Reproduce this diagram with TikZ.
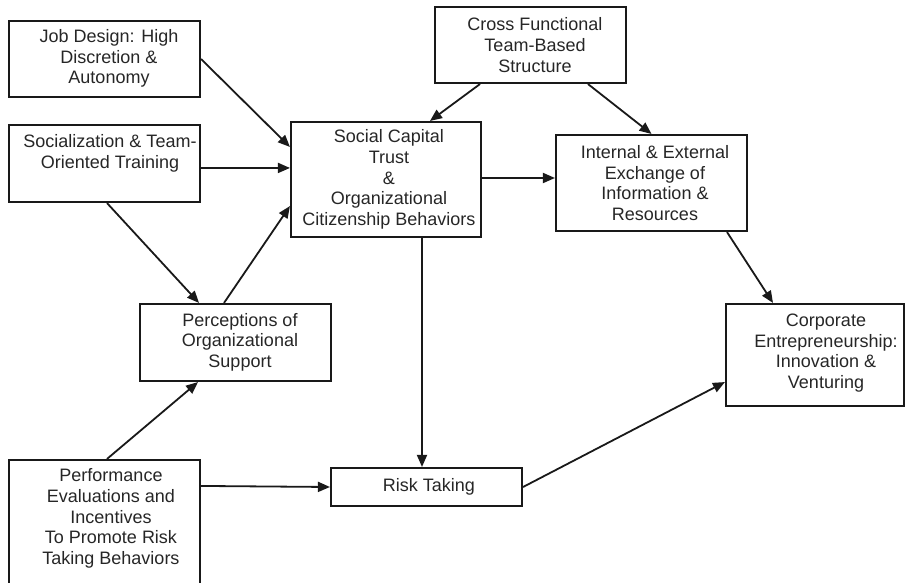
\documentclass[tikz,border=0pt]{standalone}
\usepackage{fontspec}
\setmainfont{Liberation Sans}
\usetikzlibrary{arrows.meta}
\begin{document}
\begin{tikzpicture}[x=1pt,y=-1pt,
  box/.style={draw=black!90,line width=2.1pt,inner sep=0pt,fill=none},
  txt/.style={inner sep=0pt,align=center,text=black!85,font=\fontsize{18}{20.6}\selectfont},
  arr/.style={draw=black!90,line width=1.8pt,-{Triangle[length=12pt,width=10pt]}}]
\useasboundingbox (0,0) rectangle (906,583);
\clip (0,0) rectangle (906,583);
% boxes
\node[box,minimum width=191pt,minimum height=76pt] (job) at (104.5,59) {};
\node[box,minimum width=191pt,minimum height=77pt] (soc) at (104.5,163.5) {};
\node[box,minimum width=191pt,minimum height=76pt] (cross) at (530.5,45) {};
\node[box,minimum width=190pt,minimum height=115pt] (social) at (386,179.5) {};
\node[box,minimum width=191pt,minimum height=96pt] (internal) at (651.5,183) {};
\node[box,minimum width=191pt,minimum height=77pt] (perc) at (235.5,342.5) {};
\node[box,minimum width=178pt,minimum height=102pt] (corp) at (815,355) {};
\node[box,minimum width=191pt,minimum height=140pt] (perf) at (104.5,530) {};
\node[box,minimum width=191pt,minimum height=38pt] (risk) at (426.5,487) {};
% texts
\node[txt] (tjob) at (109,58.5) {Job Design: High\\Discretion \&\\Autonomy};
\node[txt] (tsoc) at (110,153.5) {Socialization \& Team-\\Oriented Training};
\node[txt] (tcross) at (535,45) {Cross Functional\\Team-Based\\Structure};
\node[txt] (tsocial) at (389,179.5) {Social Capital\\Trust\\\&\\Organizational\\Citizenship Behaviors};
\node[txt] (tinternal) at (655,183) {Internal \& External\\Exchange of\\Information \&\\Resources};
\node[txt] (tperc) at (240,342) {Perceptions of\\Organizational\\Support};
\node[txt] (tcorp) at (826,353) {Corporate\\Entrepreneurship:\\Innovation \&\\Venturing};
\node[txt] (tperf) at (111,518.5) {Performance\\Evaluations and\\Incentives\\To Promote Risk\\Taking Behaviors};
\node[txt] (trisk) at (429,486.5) {Risk Taking};
% connectors
\draw[arr] (job.east) -- ([yshift=-26pt]social.north west);
\draw[arr] ([yshift=-44pt]soc.north east) -- ([yshift=-47pt]social.north west);
\draw[arr] ([xshift=2.5pt]soc.south) -- ([xshift=-36.5pt]perc.north);
\draw[arr] ([xshift=-11.5pt]perc.north) -- ([yshift=32pt]social.south west);
\draw[arr] ([xshift=2.5pt]perf.north) -- ([xshift=-37.5pt]perc.south);
\draw[arr] ([yshift=-27pt]perf.north east) -- (risk.west);
\draw[arr] ([xshift=-50.5pt]cross.south) -- ([xshift=44pt]social.north);
\draw[arr] ([xshift=57.5pt]cross.south) -- (internal.north);
\draw[arr] ([yshift=1.5pt]social.east) -- ([yshift=5pt]internal.west);
\draw[arr] ([xshift=36pt]social.south) -- ([xshift=-4.5pt]risk.north);
\draw[arr] ([xshift=75.5pt]internal.south) -- ([xshift=-42pt]corp.north);
\draw[arr] (risk.east) -- ([yshift=25pt]corp.south west);
\end{tikzpicture}
\end{document}
